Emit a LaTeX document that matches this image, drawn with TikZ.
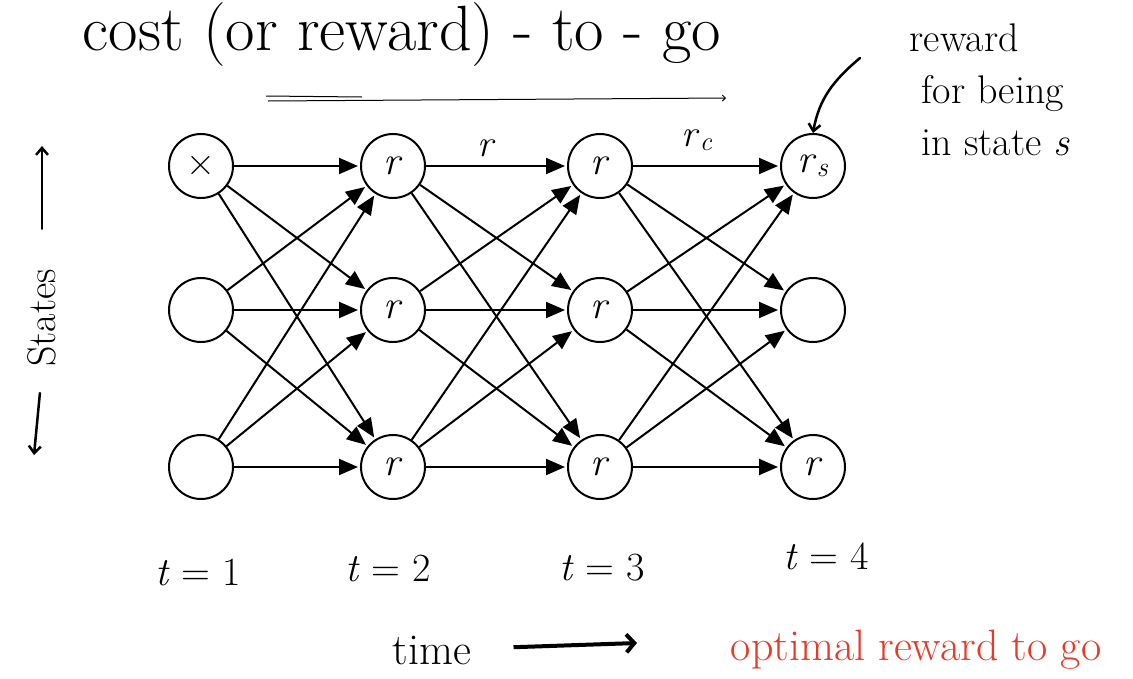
\documentclass[tikz,border=0pt]{standalone}
\usepackage{fontspec}
\usetikzlibrary{arrows.meta}
\definecolor{penred}{RGB}{232,58,40}
\newcommand{\var}[1]{\textit{#1}}

\begin{document}
\begin{tikzpicture}[x=1pt, y=-1pt, line width=2pt,
    state/.style={circle, draw, minimum size=64pt, inner sep=0pt, font=\fontsize{40}{44}\selectfont},
    edge/.style={-{Triangle[length=19pt,width=16pt]}, shorten >=2pt},
    pen/.style={font=\fontsize{40}{46}\selectfont},
    penarrow/.style={line width=2.5pt, line cap=round, -{Straight Barb[length=7pt,width=12pt]}}]
    \useasboundingbox (0,0) rectangle (1133,678);

    % 标题
    \node[font=\fontsize{64}{70}\selectfont] (title) at (402,35) {cost (or reward) - to - go};
    \coordinate (ua) at (266,96);
    \coordinate (ub) at (362,97);
    \coordinate (uc) at (268,101);
    \coordinate (ud) at (726,98);
    \draw[line width=1pt] (ua) -- (ub);
    \draw[line width=1pt, -{Straight Barb[length=3pt,width=6pt]}] (uc) -- (ud);

    % 四列状态，每列三个
    \foreach \i/\x in {1/201, 2/393, 3/600, 4/813}
        \foreach \r/\y in {a/166, b/310, c/467}
            \node[state] (n\i\r) at (\x,\y) {};

    % 状态中的标注
    \node[state, draw=none] at (n1a) {×};
    \foreach \i in {2,3}
        \foreach \r in {a,b,c}
            \node[state, draw=none] at (n\i\r) {\var{r}};
    \node[state, draw=none] at (n4a) {\var{r}\textsubscript{\var{s}}};
    \node[state, draw=none] at (n4c) {\var{r}};

    % 相邻两列之间全部连接
    \foreach \i/\j in {1/2, 2/3, 3/4}
        \foreach \a in {a,b,c}
            \foreach \b in {a,b,c}
                \draw[edge] (n\i\a) -- (n\j\b);

    % 边上的奖励
    \node[font=\fontsize{38}{42}\selectfont] (rlab) at (487,148) {\var{r}};
    \node[font=\fontsize{38}{42}\selectfont] (rclab) at (697,140) {\var{r}\textsubscript{\var{c}}};

    % 右上角说明
    \node[align=left, font=\fontsize{40}{52}\selectfont] (note) at (990,90)
        {reward\\ \ for being\\ \ in state \var{s}};
    \coordinate (hook) at (860,58);
    \draw[penarrow] (hook) to[out=220, in=80] (n4a.north);

    % 左侧 states
    \node[pen, rotate=90] (states) at (42,318) {States};
    \coordinate (up) at (42,146);
    \coordinate (down) at (34,455);
    \draw[penarrow, shorten <=36pt] (states.east) -- (up);
    \draw[penarrow, shorten <=22pt] (states.west) -- (down);

    % 时间步
    \node[pen] (t1) at (198,572) {\var{t} = 1};
    \node[pen] (t2) at (388,568) {\var{t} = 2};
    \node[pen] (t3) at (602,568) {\var{t} = 3};
    \node[pen] (t4) at (826,556) {\var{t} = 4};

    % 时间轴
    \node[font=\fontsize{44}{48}\selectfont] (time) at (432,650) {time};
    \coordinate (tend) at (637,643);
    \draw[line width=4pt, -{Straight Barb[length=8pt,width=18pt]}, shorten <=38pt] (time) -- (tend);

    % 红色注释
    \node[text=penred, font=\fontsize{44}{48}\selectfont] (opt) at (916,650) {optimal reward to go};
\end{tikzpicture}
\end{document}
